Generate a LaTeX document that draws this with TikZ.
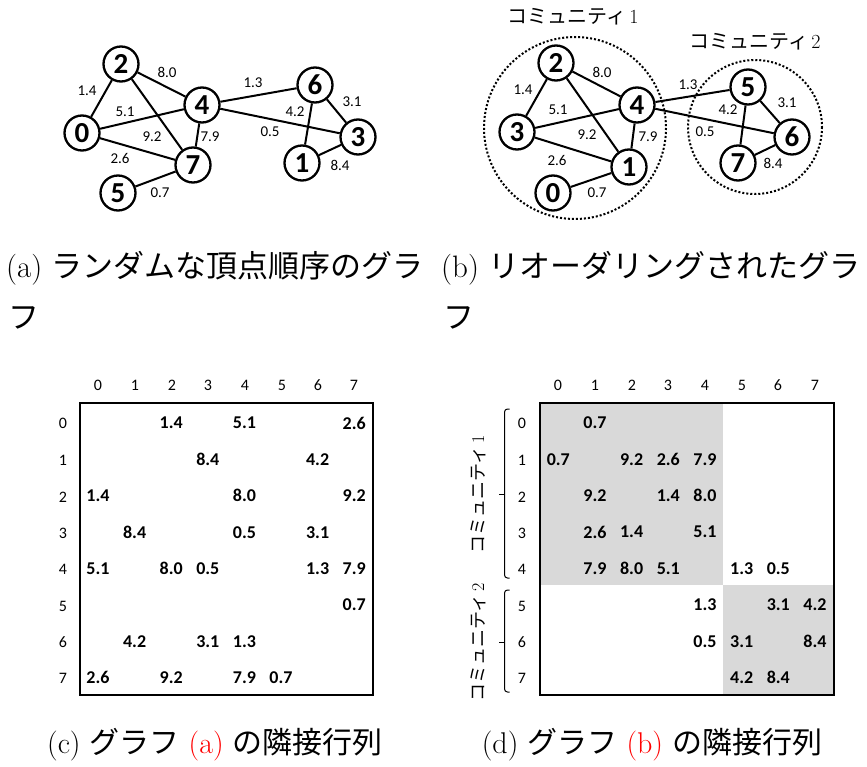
\documentclass[tikz,border=0pt]{standalone}
\usepackage{fontspec}
\newfontfamily\jpfont{Noto Sans CJK JP}
\newfontfamily\calfont{Carlito}
\definecolor{blockgray}{HTML}{D9D9D9}
\tikzset{
  vtx/.style={circle,draw,fill=white,line width=2.3pt,minimum size=35pt,inner sep=0pt,font=\calfont\bfseries\fontsize{29}{29}\selectfont},
  edg/.style={line width=2pt},
  wlab/.style={font=\calfont\fontsize{15}{15}\selectfont,inner sep=0pt},
  comm/.style={draw,dotted,line width=2pt},
  commlab/.style={font=\fontsize{20}{20}\selectfont,inner sep=0pt},
  captxt/.style={font=\fontsize{31}{31}\selectfont,inner sep=0pt},
  captxtb/.style={font=\fontsize{30}{30}\selectfont,inner sep=0pt},
  hdr/.style={font=\calfont\fontsize{16}{16}\selectfont,inner sep=0pt},
  val/.style={font=\calfont\bfseries\fontsize{18}{18}\selectfont,inner sep=0pt},
  mbox/.style={draw,line width=1.4pt},
  brk/.style={line width=1pt,rounded corners=3pt},
}
\begin{document}
\begin{tikzpicture}[x=1pt,y=-1pt]
\useasboundingbox (0,0) rectangle (867,767);
% ---------------- graph (a)
\node[vtx] (a2) at (121,64) {2};
\node[vtx] (a0) at (82,133) {0};
\node[vtx] (a4) at (202,105) {4};
\node[vtx] (a7) at (193,165) {7};
\node[vtx] (a5) at (118,193) {5};
\node[vtx] (a6) at (315,85) {6};
\node[vtx] (a3) at (358,137) {3};
\node[vtx] (a1) at (302,163) {1};
\draw[edg] (a0) -- (a2);
\draw[edg] (a0) -- (a4);
\draw[edg] (a0) -- (a7);
\draw[edg] (a2) -- (a4);
\draw[edg] (a2) -- (a7);
\draw[edg] (a4) -- (a7);
\draw[edg] (a5) -- (a7);
\draw[edg] (a4) -- (a6);
\draw[edg] (a4) -- (a3);
\draw[edg] (a6) -- (a1);
\draw[edg] (a6) -- (a3);
\draw[edg] (a1) -- (a3);
\node[wlab] (la14) at (87,91) {1.4};
\node[wlab] (la80) at (167,72) {8.0};
\node[wlab] (la51) at (125,112) {5.1};
\node[wlab] (la92) at (152,137) {9.2};
\node[wlab] (la79) at (210,137) {7.9};
\node[wlab] (la26) at (120,158) {2.6};
\node[wlab] (la07) at (160,193) {0.7};
\node[wlab] (la13) at (253,83) {1.3};
\node[wlab] (la42) at (295,112) {4.2};
\node[wlab] (la05) at (270,132) {0.5};
\node[wlab] (la31) at (352,102) {3.1};
\node[wlab] (la84) at (340,165) {8.4};
% ---------------- graph (b)
\draw[comm] (575,128) circle (91);
\draw[comm] (755,127) circle (67);
\node[commlab] (c1lab) at (573,17) {{\jpfont コミュニティ}\,1};
\node[commlab] (c2lab) at (755,42) {{\jpfont コミュニティ}\,2};
\node[vtx] (b2) at (556,63) {2};
\node[vtx] (b3) at (517,132) {3};
\node[vtx] (b4) at (637,105) {4};
\node[vtx] (b1) at (629,167) {1};
\node[vtx] (b0) at (553,193) {0};
\node[vtx] (b5) at (748,87) {5};
\node[vtx] (b6) at (792,137) {6};
\node[vtx] (b7) at (738,163) {7};
\draw[edg] (b3) -- (b2);
\draw[edg] (b2) -- (b4);
\draw[edg] (b3) -- (b4);
\draw[edg] (b2) -- (b1);
\draw[edg] (b4) -- (b1);
\draw[edg] (b3) -- (b1);
\draw[edg] (b0) -- (b1);
\draw[edg] (b4) -- (b5);
\draw[edg] (b4) -- (b6);
\draw[edg] (b5) -- (b7);
\draw[edg] (b5) -- (b6);
\draw[edg] (b7) -- (b6);
\node[wlab] (lb14) at (523,90) {1.4};
\node[wlab] (lb80) at (602,72) {8.0};
\node[wlab] (lb51) at (558,110) {5.1};
\node[wlab] (lb92) at (587,135) {9.2};
\node[wlab] (lb79) at (648,137) {7.9};
\node[wlab] (lb26) at (557,160) {2.6};
\node[wlab] (lb07) at (597,193) {0.7};
\node[wlab] (lb13) at (688,85) {1.3};
\node[wlab] (lb42) at (728,110) {4.2};
\node[wlab] (lb05) at (705,132) {0.5};
\node[wlab] (lb31) at (787,103) {3.1};
\node[wlab] (lb84) at (773,163) {8.4};
% ---------------- captions (a),(b)
\node[captxt,anchor=west] (capa1) at (6,268) {(a) {\jpfont ランダムな頂点順序のグラ}};
\node[captxt,anchor=west] (capa2) at (8,318) {\jpfont フ};
\node[captxt,anchor=west] (capb1) at (441,268) {(b) {\jpfont リオーダリングされたグラ}};
\node[captxt,anchor=west] (capb2) at (443,318) {\jpfont フ};
% ---------------- matrix (c)
\draw[mbox] (80,403) rectangle (373,695);
\foreach \i/\xx in {0/98,1/135,2/172,3/208,4/245,5/282,6/318,7/354}
  \node[hdr] (chc\i) at (\xx,385) {\i};
\foreach \i/\yy in {0/423,1/460,2/497,3/533,4/569,5/606,6/642,7/678}
  \node[hdr] (chr\i) at (63,\yy) {\i};
\foreach \r/\c/\v in {0/2/1.4,0/4/5.1,0/7/2.6,1/3/8.4,1/6/4.2,2/0/1.4,2/4/8.0,2/7/9.2,3/1/8.4,3/4/0.5,3/6/3.1,4/0/5.1,4/2/8.0,4/3/0.5,4/6/1.3,4/7/7.9,5/7/0.7,6/1/4.2,6/3/3.1,6/4/1.3,7/0/2.6,7/2/9.2,7/4/7.9,7/5/0.7}
  \node[val] (cv\r\c) at (98+36.6*\c,423+36.4*\r) {\v};
% ---------------- matrix (d)
\fill[blockgray] (540,403) rectangle (723,585);
\fill[blockgray] (723,585) rectangle (834,695);
\draw[mbox] (540,403) rectangle (834,695);
\foreach \i/\xx in {0/558,1/595,2/632,3/668,4/705,5/742,6/778,7/815}
  \node[hdr] (dhc\i) at (\xx,385) {\i};
\foreach \i/\yy in {0/423,1/460,2/497,3/533,4/569,5/606,6/642,7/678}
  \node[hdr] (dhr\i) at (522,\yy) {\i};
\foreach \r/\c/\v in {0/1/0.7,1/0/0.7,1/2/9.2,1/3/2.6,1/4/7.9,2/1/9.2,2/3/1.4,2/4/8.0,3/1/2.6,3/2/1.4,3/4/5.1,4/1/7.9,4/2/8.0,4/3/5.1,4/5/1.3,4/6/0.5,5/4/1.3,5/6/3.1,5/7/4.2,6/4/0.5,6/5/3.1,6/7/8.4,7/5/4.2,7/6/8.4}
  \node[val] (dv\r\c) at (558.3+36.67*\c,423+36.4*\r) {\v};
% brackets
\draw[brk] (509.5,409) -- (504.5,409) -- (504.5,578) -- (509.5,578);
\draw[line width=1pt] (504.5,494) -- (498.5,494);
\draw[brk] (509.5,590) -- (504.5,590) -- (504.5,692) -- (509.5,692);
\draw[line width=1pt] (504.5,642) -- (498.5,642);
\node[commlab,rotate=90,font=\fontsize{18}{18}\selectfont] (dcl1) at (478,494) {{\jpfont コミュニティ}\,1};
\node[commlab,rotate=90,font=\fontsize{18}{18}\selectfont] (dcl2) at (478,642) {{\jpfont コミュニティ}\,2};
% ---------------- captions (c),(d)
\node[captxtb] (capc) at (215,745) {(c) {\jpfont グラフ} \textcolor{red}{(a)} {\jpfont の隣接行列}};
\node[captxtb] (capd) at (652,745) {(d) {\jpfont グラフ} \textcolor{red}{(b)} {\jpfont の隣接行列}};
\end{tikzpicture}
\end{document}
